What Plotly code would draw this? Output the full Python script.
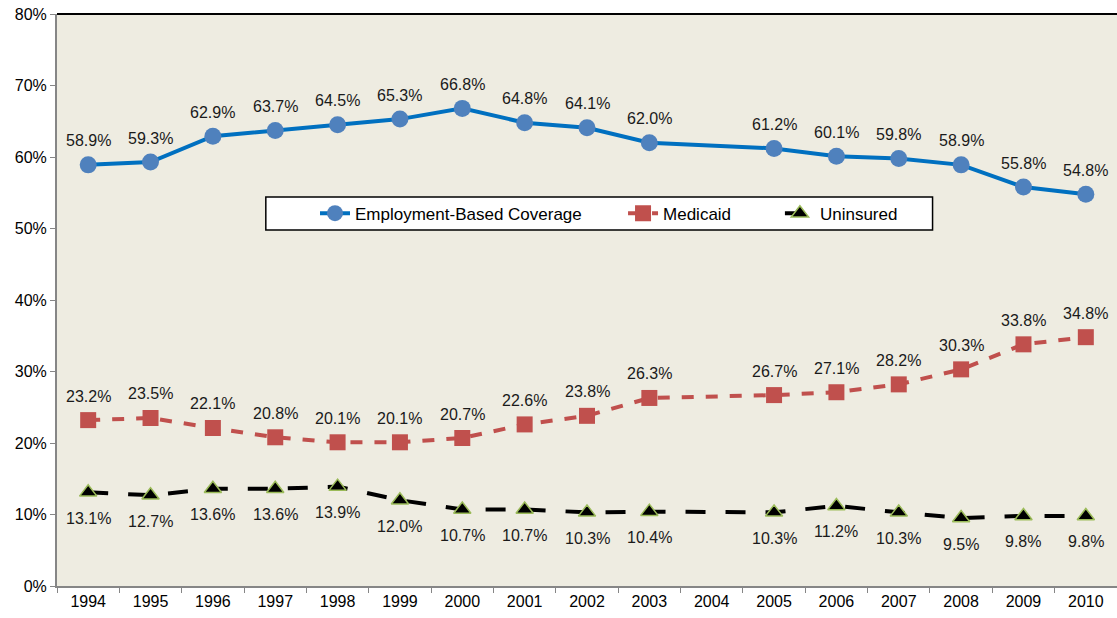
import plotly.graph_objects as go

years = ["1994", "1995", "1996", "1997", "1998", "1999", "2000", "2001", "2002",
         "2003", "2004", "2005", "2006", "2007", "2008", "2009", "2010"]

employment = [58.9, 59.3, 62.9, 63.7, 64.5, 65.3, 66.8, 64.8, 64.1,
              62.0, None, 61.2, 60.1, 59.8, 58.9, 55.8, 54.8]
medicaid = [23.2, 23.5, 22.1, 20.8, 20.1, 20.1, 20.7, 22.6, 23.8,
            26.3, None, 26.7, 27.1, 28.2, 30.3, 33.8, 34.8]
uninsured = [13.1, 12.7, 13.6, 13.6, 13.9, 12.0, 10.7, 10.7, 10.3,
             10.4, None, 10.3, 11.2, 10.3, 9.5, 9.8, 9.8]

y_ticks = [0, 10, 20, 30, 40, 50, 60, 70, 80]

FONT = "Liberation Sans, Arial, sans-serif"
label_font = dict(family=FONT, size=16, color="#1a1a1a")

fig = go.Figure()

fig.add_trace(go.Scatter(
    x=years, y=employment, name="Employment-Based Coverage", legend="legend",
    mode="lines+markers", connectgaps=True,
    line=dict(color="#0070C0", width=4),
    marker=dict(symbol="circle", size=17, color="#4F81BD"),
))

fig.add_trace(go.Scatter(
    x=years, y=medicaid, name="Medicaid", legend="legend2",
    mode="lines+markers", connectgaps=True,
    line=dict(color="#C0504D", width=4, dash="dash"),
    marker=dict(symbol="square", size=16, color="#C0504D"),
))

fig.add_trace(go.Scatter(
    x=years, y=uninsured, name="Uninsured", legend="legend3",
    mode="lines+markers", connectgaps=True,
    line=dict(color="black", width=4, dash="longdash"),
    marker=dict(symbol="triangle-up", size=15, color="black",
                line=dict(color="#9BBB59", width=1.5)),
))

# data labels: above for the first two series, below for uninsured
# (category axis: annotations take the category index)
for series, shift in [(employment, 24), (medicaid, 24), (uninsured, -26)]:
    for i, v in enumerate(series):
        if v is None:
            continue
        fig.add_annotation(x=i, y=v, text=f"{v:.1f}%", showarrow=False,
                           yshift=shift, font=label_font)

# black frame line across the top of the plot area
fig.add_shape(type="line", xref="paper", yref="paper", x0=0, x1=1, y0=1, y1=1,
              line=dict(color="black", width=2))

# legend box (one box around three separately placed legends)
fig.add_shape(type="rect", xref="paper", yref="paper",
              x0=0.197, x1=0.826, y0=0.6225, y1=0.680,
              fillcolor="white", line=dict(color="black", width=1.5), layer="below")

fig.update_xaxes(
    type="category", range=[-0.5, 16.5],
    showgrid=False, showline=True, linecolor="#868686", linewidth=2,
    ticks="outside", tickcolor="#868686", ticklen=5, tickson="boundaries",
    tickfont=dict(family=FONT, size=16, color="black"), automargin=False,
)
fig.update_yaxes(
    range=[0, 80], tickvals=y_ticks, ticktext=[f"{v}%" for v in y_ticks],
    showgrid=False, showline=True, linecolor="#868686", linewidth=2, zeroline=False,
    ticks="outside", tickcolor="#868686", ticklen=5,
    tickfont=dict(family=FONT, size=16, color="black"), automargin=False,
)

leg = dict(orientation="h", y=0.651, yanchor="middle", xanchor="left",
           bgcolor="rgba(0,0,0,0)", borderwidth=0,
           font=dict(family=FONT, size=17, color="black"))

fig.update_layout(
    width=1117, height=618,
    margin=dict(l=57, r=0, t=14, b=32),
    plot_bgcolor="#EEECE1", paper_bgcolor="white",
    font=dict(family=FONT),
    showlegend=True,
    legend=dict(leg, x=0.2434),
    legend2=dict(leg, x=0.534),
    legend3=dict(leg, x=0.682),
)

# drop the browser's default body margin so the figure sits at the page corner
fig.write_html("out.html", config={"displayModeBar": False},
               post_script="document.body.style.margin='0';")
